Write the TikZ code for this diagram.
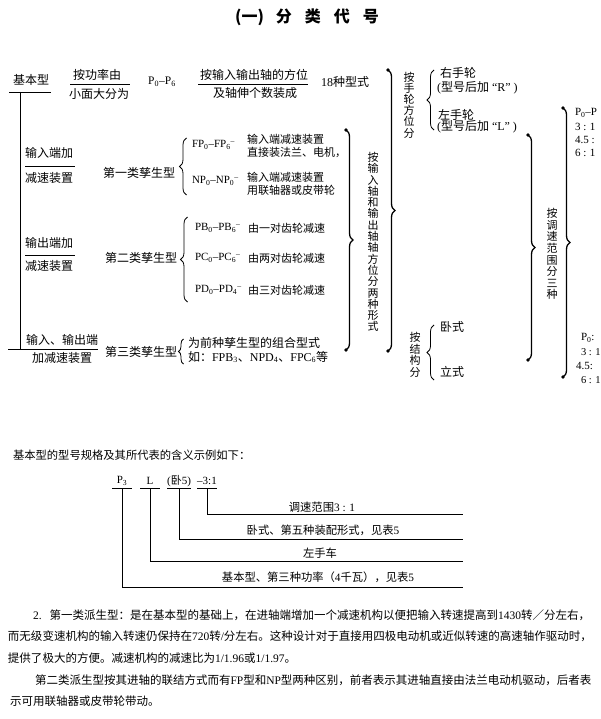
\documentclass[tikz,border=0pt]{standalone}
\usepackage{fontspec}
\setmainfont{Noto Sans CJK SC}
\newfontfamily\lat{Liberation Serif}
\usetikzlibrary{decorations.pathreplacing}
\XeTeXlinebreaklocale "zh"
\XeTeXlinebreakskip=0pt plus 3pt
\newcommand\la[1]{{\lat #1}}
\newcommand\sbs[1]{\textsubscript{\lat #1}}
\begin{document}
\begin{tikzpicture}[x=1pt,y=-1pt,
  every node/.style={inner sep=0pt, outer sep=0pt, font=\fontsize{12}{13}\selectfont},
  sub/.style={anchor=west, font=\fontsize{11}{13}\selectfont},
  code/.style={anchor=west, font=\fontsize{11}{13}\selectfont},
  vtxt/.style={align=center},
  ln/.style={line width=0.8pt},
  bigbrace/.style={decorate, decoration={brace, amplitude=7pt}, line width=1.3pt},
  smbrace/.style={decorate, decoration={brace, amplitude=7pt}, line width=0.8pt},
  exn/.style={minimum height=14pt, font=\fontsize{11}{13}\selectfont},
  exl/.style={font=\fontsize{11.3}{13}\selectfont},
  par/.style={anchor=west, font=\fontsize{11.5}{13}\selectfont}
]
\useasboundingbox (0,0) rectangle (600,719);

% title
\node[font=\fontsize{16}{16}\selectfont\bfseries] (title) at (307,17)
  {(一)\hspace{12pt}分\hspace{13pt}类\hspace{13pt}代\hspace{13pt}号};

% top row
\node (jb) at (31,80) {基本型};
\coordinate (jbl) at (9,92);
\coordinate (jbr) at (51,92);
\draw[ln] (jbl) -- (jbr);
\coordinate (vt) at (20,92);
\coordinate (vb) at (20,349);
\draw[ln] (vt) -- (vb);

\node (gl1) at (97,75) {按功率由};
\node (gl2) at (99,94) {小面大分为};
\draw[ln] (70,84) -- (130,84);
\node[font=\fontsize{11.5}{13}\selectfont] (p06) at (162,82) {\la{P\sbs{0}–P\sbs{6}}};
\node (fw1) at (254,75) {按输入输出轴的方位};
\node (fw2) at (255,93) {及轴伸个数装成};
\draw[ln] (198,84) -- (308,84);
\node (s18) at (345,82) {\la{18}种型式};

% first derived type
\node (in1) at (49,153) {输入端加};
\draw[ln] (25,166) -- (75,166);
\node (in2) at (49,178) {减速装置};
\node (c1) at (139,173) {第一类孳生型};
\draw[smbrace] (186.5,195) -- (186.5,138);
\node[code] (fp) at (192,145) {\la{FP\sbs{0}–FP\sbs{6}\textsuperscript{–}}};
\node[sub] (fpa) at (247,139) {输入端减速装置};
\node[sub] (fpb) at (247,152) {直接装法兰、电机，};
\node[code] (np) at (192,181) {\la{NP\sbs{0}–NP\sbs{0}\textsuperscript{–}}};
\node[sub] (npa) at (247,177) {输入端减速装置};
\node[sub] (npb) at (247,190) {用联轴器或皮带轮};

% second derived type
\node (out1) at (49,243) {输出端加};
\draw[ln] (25,255) -- (75,255);
\node (out2) at (49,266) {减速装置};
\node (c2) at (141,258) {第二类孳生型};
\draw[smbrace] (187.5,302) -- (187.5,217);
\node[code] (pb) at (195,228) {\la{PB\sbs{0}–PB\sbs{6}\textsuperscript{–}}};
\node[sub] (pba) at (248,228) {由一对齿轮减速};
\node[code] (pc) at (195,258) {\la{PC\sbs{0}–PC\sbs{6}\textsuperscript{–}}};
\node[sub] (pca) at (248,258) {由两对齿轮减速};
\node[code] (pd) at (195,290) {\la{PD\sbs{0}–PD\sbs{4}\textsuperscript{–}}};
\node[sub] (pda) at (248,290) {由三对齿轮减速};

% third derived type
\node (io1) at (62,340) {输入、输出端};
\coordinate (bl) at (8,349);
\coordinate (br) at (98,349);
\draw[ln] (bl) -- (br);
\node (io2) at (62,358) {加减速装置};
\node (c3) at (141,352) {第三类孳生型};
\draw[smbrace, decoration={amplitude=5pt}] (183.5,364) -- (183.5,339);
\node[anchor=west] (cm1) at (188,343) {为前种孳生型的组合型式};
\node[anchor=west] (cm2) at (188,357) {如：\la{FPB\sbs{3}}、\la{NPD\sbs{4}}、\la{FPC\sbs{6}}等};

% big brackets
\draw[bigbrace] (346,130) -- (346,350);
\fill (346,130) circle (1.8pt); \fill (346,350) circle (1.8pt);
\node[vtxt, font=\fontsize{11}{11.3}\selectfont] (v1) at (373,242)
  {按\\输\\入\\轴\\和\\输\\出\\轴\\轴\\方\\位\\分\\两\\种\\形\\式};

\draw[bigbrace] (388,70) -- (388,351);
\fill (388,70) circle (1.8pt); \fill (388,351) circle (1.8pt);

\node[vtxt, font=\fontsize{11}{11.2}\selectfont] (v2) at (409,105) {按\\手\\轮\\方\\位\\分};
\draw[smbrace] (434,130) -- (434,70);
\node[anchor=west] (rh1) at (440,73) {右手轮};
\node[anchor=west] (rh2) at (437,88) {\la{(}型号后加\la{\ “R”\ )}};
\node[anchor=west] (lh1) at (438,115) {左手轮};
\node[anchor=west] (lh2) at (437,127) {\la{(}型号后加\la{\ “L”\ )}};

\node[vtxt, font=\fontsize{11}{11.5}\selectfont] (v4) at (415,355) {按\\结\\构\\分};
\draw[smbrace] (434,380) -- (434,325);
\node[anchor=west] (wo) at (440,327) {卧式};
\node[anchor=west] (li) at (440,372) {立式};

\draw[bigbrace] (528,135) -- (528,360);
\fill (528,135) circle (1.8pt); \fill (528,360) circle (1.8pt);
\node[vtxt, font=\fontsize{11}{11.6}\selectfont] (v3) at (552,254) {按\\调\\速\\范\\围\\分\\三\\种};
\draw[bigbrace] (563,108) -- (563,377);
\fill (563,108) circle (1.8pt); \fill (563,377) circle (1.8pt);

\node[code] (r1) at (575,113) {\la{P\sbs{0}–P}};
\node[code] (r2) at (575,127) {\la{3 : 1}};
\node[code] (r3) at (575,140) {\la{4.5 :}};
\node[code] (r4) at (575,153) {\la{6 : 1}};
\node[code] (q1) at (581,338) {\la{P\sbs{0}:}};
\node[code, font=\fontsize{10.5}{13}\selectfont] (q2) at (581,352) {\la{3 : 1}};
\node[code] (q3) at (576,366) {\la{4.5:}};
\node[code, font=\fontsize{10.5}{13}\selectfont] (q4) at (581,380) {\la{6 : 1}};

% example
\node[anchor=west, font=\fontsize{11.3}{13}\selectfont] (ex) at (13,455) {基本型的型号规格及其所代表的含义示例如下：};
\node[exn, minimum width=20pt] (e1) at (122,481) {\la{P\sbs{3}}};
\node[exn, minimum width=20pt] (e2) at (150,481) {\la{L}};
\node[exn, minimum width=23pt] (e3) at (179,481) {\la{(}卧\la{5)}};
\node[exn, minimum width=20pt] (e4) at (207,481) {\la{–3:1}};
\foreach \n in {e1,e2,e3,e4} \draw[ln] (\n.south west) -- (\n.south east);
\coordinate (k4) at (463,514);
\coordinate (k3) at (463,539);
\coordinate (k2) at (463,561);
\coordinate (k1) at (463,587);
\draw[ln] (e4.south) |- (k4);
\draw[ln] (e3.south) |- (k3);
\draw[ln] (e2.south) |- (k2);
\draw[ln] (e1.south) |- (k1);
\node[exl] (t4) at (322,507) {调速范围\la{3 : 1}};
\node[exl] (t3) at (323,530) {卧式、第五种装配形式，见表\la{5}};
\node[exl] (t2) at (320,553) {左手车};
\node[exl] (t1) at (318,577) {基本型、第三种功率（\la{4}千瓦），见表\la{5}};

% paragraph
\node[par] (l1) at (33,615) {\makebox[557pt][s]{\la{2.} 第一类派生型：是在基本型的基础上，在进轴端增加一个减速机构以便把输入转速提高到\la{1430}转／分左右，}};
\node[par] (l2) at (8,636) {\makebox[584pt][s]{而无级变速机构的输入转速仍保持在\la{720}转\la{/}分左右。这种设计对于直接用四极电动机或近似转速的高速轴作驱动时，}};
\node[par] (l3) at (8,658) {提供了极大的方便。减速机构的减速比为\la{1/1.96}或\la{1/1.97}。};
\node[par] (l4) at (35,680) {\makebox[557pt][s]{第二类派生型按其进轴的联结方式而有\la{FP}型和\la{NP}型两种区别，前者表示其进轴直接由法兰电动机驱动，后者表}};
\node[par] (l5) at (10,701) {示可用联轴器或皮带轮带动。};
\end{tikzpicture}
\end{document}
